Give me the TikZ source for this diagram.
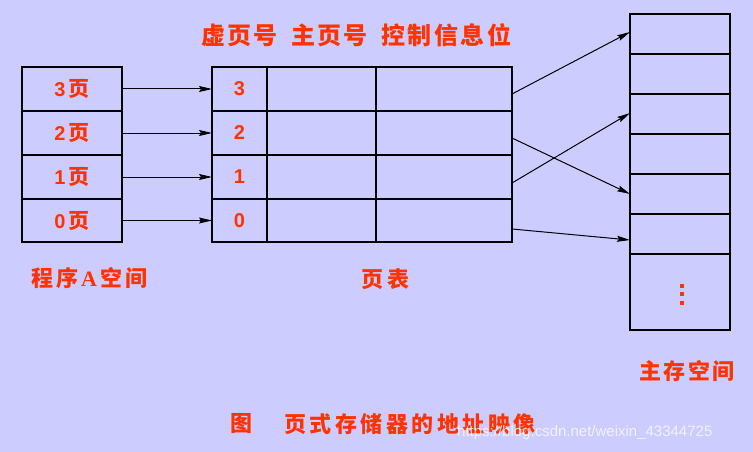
\documentclass[tikz,border=0pt]{standalone}
\usepackage{fontspec}
\setmainfont{Liberation Sans}
\newfontfamily\cjk{Noto Sans CJK SC}
\newfontfamily\serifA{Liberation Serif}
\usetikzlibrary{arrows.meta}
\definecolor{bg}{RGB}{204,204,255}
\definecolor{txt}{RGB}{255,51,0}
\newcommand\gp[1]{\kern#1pt\relax}
\begin{document}
\begin{tikzpicture}[x=1pt,y=-1pt,
 cell/.style={draw=black,line width=2pt,anchor=north west,inner sep=0pt,outer sep=0pt,
   font=\fontsize{20}{20}\selectfont\bfseries,text=txt},
 arr/.style={-{Stealth[length=13pt,width=6pt,inset=2pt]},line width=1pt},
 lbl/.style={text=txt,inner sep=0pt,anchor=west,font=\cjk\bfseries\fontsize{22}{22}\selectfont},
 hdr/.style={lbl,font=\cjk\bfseries\fontsize{24}{24}\selectfont},
 dot/.style={fill=txt,draw=none},
]
\fill[bg] (0,0) rectangle (753,452);
\useasboundingbox (0,0) rectangle (753,452);

% program A space
\node[cell,minimum width=100pt,minimum height=44pt] (p3) at (22,67)  {3\,{\cjk\fontsize{21}{21}\selectfont 页}};
\node[cell,minimum width=100pt,minimum height=44pt] (p2) at (22,111) {2\,{\cjk\fontsize{21}{21}\selectfont 页}};
\node[cell,minimum width=100pt,minimum height=44pt] (p1) at (22,155) {1\,{\cjk\fontsize{21}{21}\selectfont 页}};
\node[cell,minimum width=100pt,minimum height=43pt] (p0) at (22,199) {0\,{\cjk\fontsize{21}{21}\selectfont 页}};

% page table
\node[cell,minimum width=55pt,minimum height=44pt] (t3a) at (212,67)  {3};
\node[cell,minimum width=109pt,minimum height=44pt] (t3b) at (267,67)  {};
\node[cell,minimum width=136pt,minimum height=44pt] (t3c) at (376,67)  {};
\node[cell,minimum width=55pt,minimum height=44pt] (t2a) at (212,111) {2};
\node[cell,minimum width=109pt,minimum height=44pt] (t2b) at (267,111) {};
\node[cell,minimum width=136pt,minimum height=44pt] (t2c) at (376,111) {};
\node[cell,minimum width=55pt,minimum height=44pt] (t1a) at (212,155) {1};
\node[cell,minimum width=109pt,minimum height=44pt] (t1b) at (267,155) {};
\node[cell,minimum width=136pt,minimum height=44pt] (t1c) at (376,155) {};
\node[cell,minimum width=55pt,minimum height=43pt] (t0a) at (212,199) {0};
\node[cell,minimum width=109pt,minimum height=43pt] (t0b) at (267,199) {};
\node[cell,minimum width=136pt,minimum height=43pt] (t0c) at (376,199) {};

% main memory
\node[cell,minimum width=100pt,minimum height=40pt] (m0) at (630,14)  {};
\node[cell,minimum width=100pt,minimum height=40pt] (m1) at (630,54)  {};
\node[cell,minimum width=100pt,minimum height=40pt] (m2) at (630,94)  {};
\node[cell,minimum width=100pt,minimum height=40pt] (m3) at (630,134) {};
\node[cell,minimum width=100pt,minimum height=40pt] (m4) at (630,174) {};
\node[cell,minimum width=100pt,minimum height=40pt] (m5) at (630,214) {};
\node[cell,minimum width=100pt,minimum height=76pt] (m6) at (630,254) {};
\fill[dot] (680,284) rectangle (684,288);
\fill[dot] (680,292) rectangle (684,296);
\fill[dot] (680,301) rectangle (684,305);

% arrows program -> page table
\draw[arr] (p3.east) -- (t3a.west);
\draw[arr] (p2.east) -- (t2a.west);
\draw[arr] (p1.east) -- (t1a.west);
\draw[arr] (p0.east) -- (t0a.west);

% arrows page table -> memory
\draw[arr] ([yshift=-5pt]t3c.east) -- ([yshift=2pt]m0.west);
\draw[arr] ([yshift=-5pt]t2c.east) -- (m4.west);
\draw[arr] ([yshift=-6pt]t1c.east) -- ([yshift=1pt]m2.west);
\draw[arr] ([yshift=-8.5pt]t0c.east) -- ([yshift=-6pt]m5.west);

% texts
\node[hdr] (h1) at (201,35) {虚\gp{2}页\gp{2}号};
\node[hdr] (h2) at (291,35) {主\gp{2}页\gp{2}号};
\node[hdr] (h3) at (381,35) {控\gp{2.5}制\gp{2.5}信\gp{2.5}息\gp{2.5}位};

\node[lbl] (l1) at (31,278) {程\gp{3}序\gp{3}{\serifA\bfseries A}\gp{3}空\gp{3}间};
\node[lbl] (l2) at (361,279) {页\gp{4}表};
\node[lbl] (l3) at (639,371) {主\gp{2.5}存\gp{2.5}空\gp{2.5}间};

\node[lbl] (c1) at (230,424) {图};
\node[lbl] (c2) at (284,424) {页\gp{3.5}式\gp{3.5}存\gp{3.5}储\gp{3.5}器\gp{3.5}的\gp{3.5}地\gp{3.5}址\gp{3.5}映\gp{3.5}像};

\node[anchor=west,inner sep=0pt,text=white,opacity=0.75,font=\fontsize{15}{15}\selectfont] (wm) at (457,433) {https://blog.csdn.net/weixin\_43344725};
\end{tikzpicture}
\end{document}
